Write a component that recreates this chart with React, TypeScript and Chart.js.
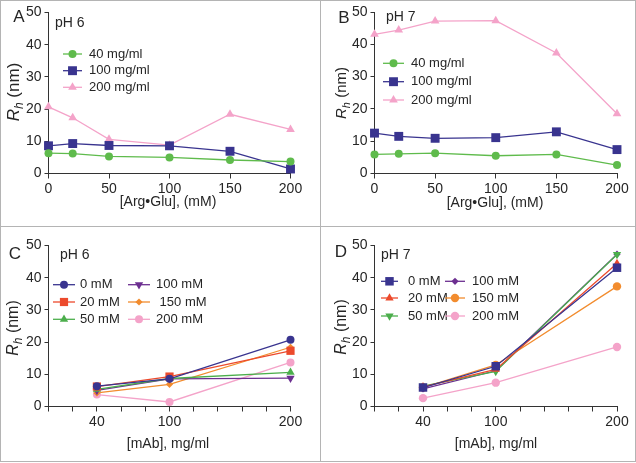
import React, { useEffect, useRef } from 'react';
import { Chart, registerables } from 'chart.js';
import { drawPoint } from 'chart.js/helpers';

Chart.register(...registerables);

const FONT = '"Liberation Sans", Arial, Helvetica, sans-serif';
const TEXT = '#262626';
const AXIS = '#333333';

// ---- data: panels A / B, x = [Arg•Glu] (mM) ----
const argGlu = [0, 20, 50, 100, 150, 200];
const argTicks = [0, 50, 100, 150, 200];
const a40 = [6.3, 6.2, 5.3, 5.0, 4.2, 3.7];
const a100 = [8.6, 9.3, 8.7, 8.6, 6.9, 1.4];
const a200 = [20.7, 17.3, 10.6, 8.8, 18.4, 13.7];
const b40 = [5.9, 6.1, 6.3, 5.5, 5.9, 2.6];
const b100 = [12.5, 11.5, 10.9, 11.1, 12.9, 7.4];
const b200 = [43.1, 44.4, 47.2, 47.3, 37.3, 18.5];

// ---- data: panels C / D, x = [mAb] (mg/ml) ----
const mab = [40, 100, 200];
const mabTicks = [40, 100, 200];
const c0 = [6.3, 8.6, 20.7];
const c20 = [6.2, 9.3, 17.3];
const c50 = [5.3, 8.7, 10.6];
const c100 = [5.0, 8.6, 8.8];
const c150 = [4.2, 6.9, 18.4];
const c200 = [3.7, 1.4, 13.7];
const d0 = [5.9, 12.5, 43.1];
const d20 = [6.1, 11.5, 44.4];
const d50 = [6.3, 10.9, 47.2];
const d100 = [5.5, 11.1, 47.3];
const d150 = [5.9, 12.9, 37.3];
const d200 = [2.6, 7.4, 18.5];

const yTicksMax = 50;

const GREEN = '#5fbb4c';
const NAVY = '#39348f';
const PINK = '#f4a3c9';
const RED = '#ec4a2c';
const GREEN2 = '#4cae4c';
const PURPLE = '#6c2f90';
const ORANGE = '#f28c2e';

type DS = { label: string; xs: number[]; ys: number[]; color: string; style: string; rot?: number; r: number };
type LegendItem = { i: number; x0: number; x1: number; tx: number; y: number };
type Panel = {
  box: { l: number; r: number; t: number; b: number };
  series: DS[];
  xStep: number;
  xLabels: number[];
  letter: string; letterX: number; letterY: number;
  ph: string; phX: number; phY: number;
  xTitle: string; xTitleX: number; xTitleY: number;
  yTitleX: number; yTitleY: number; yTitleSize: number;
  legend: LegendItem[];
};

const panels: Panel[] = [
  {
    box: { l: 48.5, r: 290.5, t: 12.5, b: 173.5 },
    series: [
      { label: '40 mg/ml', xs: argGlu, ys: a40, color: GREEN, style: 'circle', r: 4 },
      { label: '100 mg/ml', xs: argGlu, ys: a100, color: NAVY, style: 'rect', r: 6.3 },
      { label: '200 mg/ml', xs: argGlu, ys: a200, color: PINK, style: 'triangle', r: 5 },
    ],
    xStep: 50, xLabels: argTicks,
    letter: 'A', letterX: 19, letterY: 17,
    ph: 'pH 6', phX: 55, phY: 23,
    xTitle: '[Arg\u2022Glu], (mM)', xTitleX: 168, xTitleY: 202,
    yTitleX: 13, yTitleY: 92, yTitleSize: 17,
    legend: [
      { i: 0, x0: 63, x1: 82, tx: 89, y: 54 },
      { i: 1, x0: 63, x1: 82, tx: 89, y: 70.7 },
      { i: 2, x0: 63, x1: 82, tx: 89, y: 87.3 },
    ],
  },
  {
    box: { l: 374.5, r: 617, t: 12, b: 173.5 },
    series: [
      { label: '40 mg/ml', xs: argGlu, ys: b40, color: GREEN, style: 'circle', r: 4 },
      { label: '100 mg/ml', xs: argGlu, ys: b100, color: NAVY, style: 'rect', r: 6.3 },
      { label: '200 mg/ml', xs: argGlu, ys: b200, color: PINK, style: 'triangle', r: 5 },
    ],
    xStep: 50, xLabels: argTicks,
    letter: 'B', letterX: 344, letterY: 18,
    ph: 'pH 7', phX: 386, phY: 17,
    xTitle: '[Arg\u2022Glu], (mM)', xTitleX: 495, xTitleY: 203,
    yTitleX: 341, yTitleY: 93, yTitleSize: 15,
    legend: [
      { i: 0, x0: 383, x1: 404, tx: 411, y: 63.3 },
      { i: 1, x0: 383, x1: 404, tx: 411, y: 81.7 },
      { i: 2, x0: 383, x1: 404, tx: 411, y: 100 },
    ],
  },
  {
    box: { l: 48.5, r: 290.5, t: 245.5, b: 406.5 },
    series: [
      { label: '0 mM', xs: mab, ys: c0, color: NAVY, style: 'circle', r: 4 },
      { label: '20 mM', xs: mab, ys: c20, color: RED, style: 'rect', r: 5.8 },
      { label: '50 mM', xs: mab, ys: c50, color: GREEN2, style: 'triangle', r: 4.8 },
      { label: '100 mM', xs: mab, ys: c100, color: PURPLE, style: 'triangle', rot: 180, r: 4.8 },
      { label: ' 150 mM', xs: mab, ys: c150, color: ORANGE, style: 'rectRot', r: 3.6 },
      { label: '200 mM', xs: mab, ys: c200, color: PINK, style: 'circle', r: 4 },
    ],
    xStep: 20, xLabels: mabTicks,
    letter: 'C', letterX: 15, letterY: 254,
    ph: 'pH 6', phX: 60, phY: 255,
    xTitle: '[mAb], mg/ml', xTitleX: 168, xTitleY: 444,
    yTitleX: 12, yTitleY: 328, yTitleSize: 16,
    legend: [
      { i: 0, x0: 53, x1: 75, tx: 80, y: 284.7 },
      { i: 1, x0: 53, x1: 75, tx: 80, y: 302 },
      { i: 2, x0: 53, x1: 75, tx: 80, y: 319.3 },
      { i: 3, x0: 128, x1: 150, tx: 156, y: 284.7 },
      { i: 4, x0: 128, x1: 150, tx: 156, y: 302 },
      { i: 5, x0: 128, x1: 150, tx: 156, y: 319.3 },
    ],
  },
  {
    box: { l: 374.5, r: 617, t: 245.5, b: 406.5 },
    series: [
      { label: '0 mM', xs: mab, ys: d0, color: NAVY, style: 'rect', r: 6 },
      { label: '20 mM', xs: mab, ys: d20, color: RED, style: 'triangle', r: 4.8 },
      { label: '50 mM', xs: mab, ys: d50, color: GREEN2, style: 'triangle', rot: 180, r: 4.8 },
      { label: '100 mM', xs: mab, ys: d100, color: PURPLE, style: 'rectRot', r: 3.6 },
      { label: '150 mM', xs: mab, ys: d150, color: ORANGE, style: 'circle', r: 4.2 },
      { label: '200 mM', xs: mab, ys: d200, color: PINK, style: 'circle', r: 4.2 },
    ],
    xStep: 20, xLabels: mabTicks,
    letter: 'D', letterX: 341, letterY: 252,
    ph: 'pH 7', phX: 381, phY: 255,
    xTitle: '[mAb], mg/ml', xTitleX: 496, xTitleY: 444,
    yTitleX: 340, yTitleY: 327, yTitleSize: 16,
    legend: [
      { i: 0, x0: 381, x1: 398, tx: 408, y: 281.3 },
      { i: 1, x0: 381, x1: 398, tx: 408, y: 298 },
      { i: 2, x0: 381, x1: 398, tx: 408, y: 316 },
      { i: 3, x0: 445, x1: 465, tx: 472, y: 281.3 },
      { i: 4, x0: 445, x1: 465, tx: 472, y: 298 },
      { i: 5, x0: 445, x1: 465, tx: 472, y: 316 },
    ],
  },
];

const W = 636;
const H = 463;
const Y_W = 30;
const X_H = 30;
const LINE_W = 1.3;

function makeTextPlugin(p: Panel) {
  return {
    id: 'panelText' + p.letter,
    afterDraw(chart: any) {
      const ctx: CanvasRenderingContext2D = chart.ctx;
      ctx.save();
      ctx.fillStyle = TEXT;
      ctx.textBaseline = 'middle';
      ctx.textAlign = 'center';
      ctx.font = `17px ${FONT}`;
      ctx.fillText(p.letter, p.letterX, p.letterY);
      ctx.font = `14px ${FONT}`;
      ctx.textAlign = 'left';
      ctx.fillText(p.ph, p.phX, p.phY);
      ctx.textAlign = 'center';
      ctx.fillText(p.xTitle, p.xTitleX, p.xTitleY);

      // y title: italic R with italic subscript h, then " (nm)"
      const s = p.yTitleSize;
      const fR = `italic ${s}px ${FONT}`;
      const fh = `italic ${Math.round(s * 0.72)}px ${FONT}`;
      const fn = `${s}px ${FONT}`;
      ctx.font = fR; const wR = ctx.measureText('R').width;
      ctx.font = fh; const wh = ctx.measureText('h').width;
      ctx.font = fn; const wn = ctx.measureText(' (nm)').width;
      const total = wR + wh + wn;
      ctx.translate(p.yTitleX, p.yTitleY);
      ctx.rotate(-Math.PI / 2);
      ctx.textAlign = 'left';
      ctx.textBaseline = 'alphabetic';
      let x = -total / 2;
      const base = s * 0.36;
      ctx.font = fR; ctx.fillText('R', x, base); x += wR;
      ctx.font = fh; ctx.fillText('h', x, base + s * 0.25); x += wh;
      ctx.font = fn; ctx.fillText(' (nm)', x, base);
      ctx.setTransform(1, 0, 0, 1, 0, 0);

      // legend
      p.legend.forEach((it) => {
        const ds = chart.data.datasets[it.i];
        ctx.strokeStyle = ds.borderColor;
        ctx.lineWidth = LINE_W;
        ctx.beginPath();
        ctx.moveTo(it.x0, it.y);
        ctx.lineTo(it.x1, it.y);
        ctx.stroke();
        ctx.fillStyle = ds.pointBackgroundColor;
        drawPoint(ctx, {
          pointStyle: ds.pointStyle,
          rotation: ds.pointRotation,
          radius: ds.pointRadius,
          borderWidth: 0,
        } as any, (it.x0 + it.x1) / 2, it.y);
        ctx.fillStyle = TEXT;
        ctx.font = `13px ${FONT}`;
        ctx.textAlign = 'left';
        ctx.textBaseline = 'middle';
        ctx.fillText(ds.label, it.tx, it.y);
      });
      ctx.restore();
    },
  };
}

function makeConfig(p: Panel): any {
  const datasets = p.series.map((d) => ({
    label: d.label,
    data: d.xs.map((x, i) => ({ x, y: d.ys[i] })),
    borderColor: d.color,
    backgroundColor: d.color,
    pointBackgroundColor: d.color,
    pointBorderColor: d.color,
    pointStyle: d.style,
    pointRotation: d.rot ?? 0,
    pointRadius: d.r,
    pointBorderWidth: 0,
    borderWidth: LINE_W,
    tension: 0,
    fill: false,
    clip: false,
  }));
  const tickFont = { family: FONT, size: 14 };
  return {
    type: 'line',
    data: { datasets },
    plugins: [makeTextPlugin(p)],
    options: {
      responsive: false,
      animation: false,
      devicePixelRatio: 1,
      events: [],
      layout: {
        padding: {
          left: p.box.l - Y_W,
          right: W - p.box.r,
          top: p.box.t,
          bottom: H - p.box.b - X_H,
        },
      },
      plugins: { legend: { display: false }, tooltip: { enabled: false }, title: { display: false } },
      scales: {
        x: {
          type: 'linear',
          min: 0,
          max: 200,
          ticks: {
            stepSize: p.xStep,
            autoSkip: false,
            maxRotation: 0,
            font: tickFont,
            color: TEXT,
            padding: 2,
            callback: (v: number) => (p.xLabels.includes(v) ? String(v) : ''),
          },
          grid: { drawOnChartArea: false, drawTicks: true, tickLength: 5, color: AXIS, lineWidth: 1 },
          border: { display: true, color: AXIS, width: 1 },
          afterFit: (s: any) => { s.height = X_H; s.paddingLeft = 0; s.paddingRight = 0; },
        },
        y: {
          type: 'linear',
          min: 0,
          max: yTicksMax,
          ticks: { stepSize: 10, font: tickFont, color: TEXT, padding: 3 },
          grid: { drawOnChartArea: false, drawTicks: true, tickLength: 4, color: AXIS, lineWidth: 1 },
          border: { display: true, color: AXIS, width: 1 },
          afterFit: (s: any) => { s.width = Y_W; s.paddingTop = 0; s.paddingBottom = 0; },
        },
      },
    },
  };
}

const FRAME = '#b4b4b4';

export default function App() {
  const refs = useRef<(HTMLCanvasElement | null)[]>([]);
  useEffect(() => {
    const charts = panels.map((p, i) => new Chart(refs.current[i] as HTMLCanvasElement, makeConfig(p)));
    return () => charts.forEach((c) => c.destroy());
  }, []);
  const line = (l: number, t: number, w: number, h: number) => (
    <div style={{ position: 'absolute', left: l, top: t, width: w, height: h, background: FRAME }} />
  );
  return (
    <div style={{ position: 'absolute', left: 0, top: 0, width: W, height: H, background: '#fff', overflow: 'hidden' }}>
      {line(0, 0, 1, 462)}
      {line(635, 0, 1, 462)}
      {line(0, 0, 636, 1)}
      {line(0, 461, 636, 1)}
      {line(320, 0, 1, 462)}
      {line(0, 226, 636, 1)}
      {panels.map((p, i) => (
        <canvas
          key={p.letter}
          ref={(el) => { refs.current[i] = el; }}
          width={W}
          height={H}
          style={{ position: 'absolute', left: 0, top: 0, width: W, height: H }}
        />
      ))}
    </div>
  );
}
